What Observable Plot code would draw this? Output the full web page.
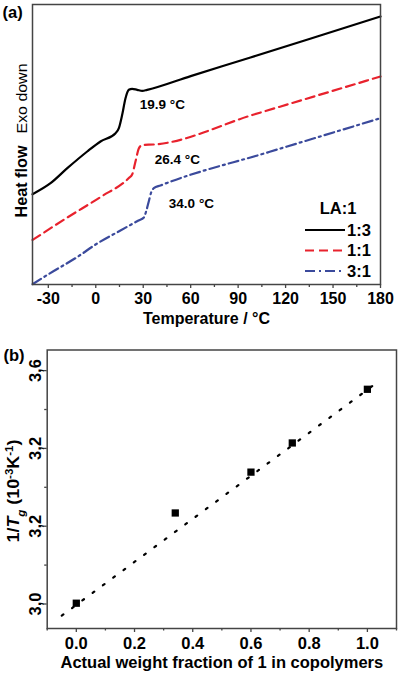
<!DOCTYPE html>
<html><head><meta charset="utf-8">
<script src="https://cdn.jsdelivr.net/npm/d3@7"></script>
<script src="https://cdn.jsdelivr.net/npm/@observablehq/plot@0.6"></script>
<style>
body{margin:0;background:#fff;}
#chart svg{display:block;}
</style></head><body><div id="chart"></div>
<script>
// ---------- Panel (a): DSC heat-flow curves ----------
const seriesNames = ["1:3", "1:1", "3:1"];
const seriesColors = ["#000000", "#e8222d", "#3b4a9c"];
const seriesDash = [null, "9,5", "10,4,2,4"];

const temp13 = [-40, -28.6, -18, -5.4, 3, 12.5, 14.6, 16.7, 18.8, 20.9, 23, 26.2, 29.4, 32.5, 60, 97.8, 140, 180];
const hf13   = [90.3, 101.3, 116.3, 133, 143, 151.3, 156.3, 169.7, 186.3, 194.7, 195.7, 194.7, 193.7, 194.7, 208.4, 227, 248, 268];

const temp11 = [-40, -18, 3, 20.9, 23, 25.1, 27.2, 29.4, 36.7, 100, 180];
const hf11   = [44.5, 67, 87.5, 106.5, 110, 123, 136, 139.5, 140, 170, 208];

const temp31 = [-40, -29.7, -11.7, 0.9, 15.6, 27, 30.4, 32, 33.5, 35, 36.7, 40.9, 110, 180];
const hf31   = [0.3, 10.5, 27.5, 41, 54, 64, 67, 74, 83, 92, 96.3, 99, 132.7, 166.3];

const tgLabels = ["19.9 °C", "26.4 °C", "34.0 °C"];
const tgLabelT = [27.8, 37.3, 46.2];
const tgLabelHF = [179.7, 124.7, 81.3];

const xTicksA = [-30, 0, 30, 60, 90, 120, 150, 180];
const xTickLabelsA = ["-30", "0", "30", "60", "90", "120", "150", "180"];
const xMinorA = [-15, 15, 45, 75, 105, 135, 165];

// ---------- Panel (b): 1/Tg vs weight fraction ----------
const weightFraction = [0.0, 0.34, 0.60, 0.742, 1.0];
const invTg = [3.002, 3.234, 3.339, 3.414, 3.552];
const fitX = [-0.05, 1.04];
const fitY = [2.970, 3.573];

const xTicksB = [0, 0.2, 0.4, 0.6, 0.8, 1.0];
const xTickLabelsB = ["0.0", "0.2", "0.4", "0.6", "0.8", "1.0"];
const xMinorB = [-0.1, 0.1, 0.3, 0.5, 0.7, 0.9, 1.1];
const yTicksB = [3.0, 3.2, 3.4, 3.6];
const yTickLabelsB = ["3,0", "3,2", "3,2", "3,6"];
const yMinorB = [3.1, 3.3, 3.5];

const FONT = '"Liberation Sans", Arial, Helvetica, sans-serif';
const AXIS = "#444";

const curveSets = [[temp13, hf13], [temp11, hf11], [temp31, hf31]];
const rowsA = [];
curveSets.forEach(([t, h], i) => t.forEach((x, j) => rowsA.push({series: seriesNames[i], t: x, hf: h[j]})));
const annRows = tgLabels.map((l, i) => ({l, t: tgLabelT[i], hf: tgLabelHF[i]}));

const plotA = Plot.plot({
  width: 400, height: 330,
  marginTop: 4, marginBottom: 46, marginLeft: 32, marginRight: 20,
  style: {fontFamily: FONT, fontWeight: "bold", fontSize: "16px", color: "#000", background: "#fff", overflow: "visible"},
  x: {domain: [-40, 180]},
  y: {domain: [0, 280], axis: null},
  marks: [
    Plot.axisX({ticks: xTicksA, tickSize: 4, tickPadding: 4.5, stroke: AXIS, strokeWidth: 1.3,
      tickFormat: d => xTickLabelsA[xTicksA.indexOf(d)], label: null, fontSize: 16}),
    Plot.axisX({ticks: xMinorA, tickSize: 3, stroke: AXIS, strokeWidth: 1.3, tickFormat: () => "", label: null}),
    ...seriesNames.map((s, i) => Plot.line(rowsA.filter(r => r.series === s), {
      x: "t", y: "hf", stroke: seriesColors[i], strokeWidth: 2.2,
      strokeDasharray: seriesDash[i], curve: "monotone-x"})),
    Plot.frame({stroke: AXIS, strokeWidth: 1.5}),
    Plot.text(annRows, {x: "t", y: "hf", text: "l", textAnchor: "start", lineAnchor: "middle", fontSize: 13.5, fontWeight: "bold"}),
    Plot.text(["Temperature / °C"], {frameAnchor: "bottom", dy: 34.3, lineAnchor: "middle", fontSize: 16, fontWeight: "bold"}),
    Plot.text(["Heat flow"], {frameAnchor: "left", dx: -6, dy: 37, rotate: -90, lineAnchor: "bottom", textAnchor: "middle",
      fontSize: 16.5, fontWeight: "bold", className: "ylabHF"}),
    Plot.text(["Exo down"], {frameAnchor: "left", dx: -6, dy: -46, rotate: -90, lineAnchor: "bottom", textAnchor: "middle",
      fontSize: 14.5, fontWeight: "normal", className: "ylabEXO"}),
    Plot.text(["(a)"], {frameAnchor: "top-left", dx: -30, dy: 8, textAnchor: "start", lineAnchor: "middle", fontSize: 16.5, fontWeight: "bold"})
  ]
});

// stretch the rotated labels to the reference lengths
d3.select(plotA).select("g.ylabHF text").attr("textLength", 72).attr("lengthAdjust", "spacingAndGlyphs");
d3.select(plotA).select("g.ylabEXO text").attr("textLength", 70).attr("lengthAdjust", "spacingAndGlyphs");

// legend inside panel (a)
const svgA = d3.select(plotA);
const lg = svgA.append("g").attr("font-family", FONT).attr("font-weight", "bold").attr("font-size", 16.5);
lg.append("text").attr("x", 338).attr("y", 208).attr("dy", "0.35em").attr("text-anchor", "middle").text("LA:1");
seriesNames.forEach((s, i) => {
  const yy = 230 + i * 20.5;
  lg.append("line").attr("x1", 305).attr("x2", 345).attr("y1", yy).attr("y2", yy)
    .attr("stroke", seriesColors[i]).attr("stroke-width", 2.2)
    .attr("stroke-dasharray", seriesDash[i]);
  lg.append("text").attr("x", 347).attr("y", yy).attr("dy", "0.35em").attr("text-anchor", "start").text(s);
});

const pointsB = weightFraction.map((w, i) => ({w, v: invTg[i]}));
const fitRows = fitX.map((x, i) => ({x, y: fitY[i]}));

const plotB = Plot.plot({
  width: 400, height: 344,
  marginTop: 19.5, marginBottom: 46, marginLeft: 46.7, marginRight: 4,
  style: {fontFamily: FONT, fontWeight: "bold", fontSize: "16.5px", color: "#000", background: "#fff", overflow: "visible"},
  x: {domain: [-0.1, 1.1]},
  y: {domain: [2.937, 3.653]},
  marks: [
    Plot.axisX({ticks: xTicksB, tickSize: 4, tickPadding: 4.5, stroke: AXIS, strokeWidth: 1.3,
      tickFormat: d => xTickLabelsB[xTicksB.indexOf(d)], label: null, fontSize: 16.5}),
    Plot.axisX({ticks: xMinorB, tickSize: 2.5, stroke: AXIS, strokeWidth: 1.3, tickFormat: () => "", label: null}),
    Plot.axisY({ticks: yTicksB, tickSize: 4, stroke: AXIS, strokeWidth: 1.3, tickFormat: () => "", label: null}),
    Plot.axisY({ticks: yMinorB, tickSize: 2.5, stroke: AXIS, strokeWidth: 1.3, tickFormat: () => "", label: null}),
    Plot.text(yTicksB, {y: d => d, frameAnchor: "left", text: (d, i) => yTickLabelsB[i], rotate: -90,
      dx: -11.2, lineAnchor: "middle", textAnchor: "middle", fontSize: 16.5, fontWeight: "bold"}),
    Plot.line(fitRows, {x: "x", y: "y", stroke: "#000", strokeWidth: 2.2, strokeDasharray: "2,10.8"}),
    Plot.dot(pointsB, {x: "w", y: "v", symbol: "square", r: 4.1, fill: "#000", stroke: null}),
    Plot.frame({stroke: AXIS, strokeWidth: 1.5}),
    Plot.text(["Actual weight fraction of 1 in copolymers"], {frameAnchor: "bottom", dy: 34.3, lineAnchor: "middle", fontSize: 16.5, fontWeight: "bold"}),
    Plot.text(["1/Tg (10-3K-1)"], {frameAnchor: "left", dx: -28.2, dy: 1.75, rotate: -90, lineAnchor: "bottom",
      textAnchor: "middle", fontSize: 17, fontWeight: "bold", className: "ylabB"}),
    Plot.text(["(b)"], {frameAnchor: "top-left", dx: -43.7, dy: 5.5, textAnchor: "start", lineAnchor: "middle", fontSize: 16.5, fontWeight: "bold"})
  ]
});

// rich text for the y label of panel (b)
const yl = d3.select(plotB).select("g.ylabB text");
if (!yl.empty()) {
  yl.text(null);
  yl.append("tspan").text("1/");
  yl.append("tspan").attr("font-style", "italic").text("T");
  yl.append("tspan").attr("font-style", "italic").attr("font-size", 11).attr("dy", 6).text("g");
  yl.append("tspan").attr("dy", -6).text(" (10");
  yl.append("tspan").attr("font-size", 11).attr("dy", -6).text("-3");
  yl.append("tspan").attr("dy", 6).text("K");
  yl.append("tspan").attr("font-size", 11).attr("dy", -6).text("-1");
  yl.append("tspan").attr("dy", 6).text(")");
  yl.attr("textLength", 103).attr("lengthAdjust", "spacingAndGlyphs");
}

document.getElementById("chart").append(plotA, plotB);
</script>
</body></html>
